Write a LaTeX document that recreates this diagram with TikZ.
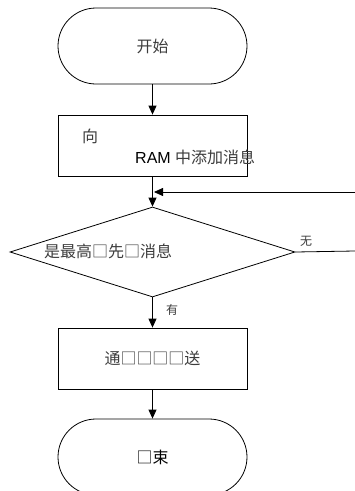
\documentclass[tikz,border=0pt]{standalone}
\usepackage{fontspec}
\setmainfont{Liberation Sans}
\newfontfamily\cjk{Noto Sans CJK SC}
\usetikzlibrary{shapes.geometric,arrows.meta}
\definecolor{txtgray}{HTML}{3C3C3C}
\tikzset{
  line/.style={draw=black, line width=0.8pt},
  arr/.style={line, -{Triangle[length=9pt,width=8pt]}},
  term/.style={line, rectangle, rounded corners=38pt, minimum width=189pt, minimum height=76pt, inner sep=0pt},
  proc/.style={line, rectangle, minimum width=189pt, minimum height=61pt, inner sep=0pt},
  dec/.style={line, diamond, minimum width=285pt, minimum height=90pt, inner sep=0pt, aspect=3.17},
  big/.style={font=\cjk\fontsize{16}{18}\selectfont, text=txtgray, inner sep=0pt},
  small/.style={font=\cjk\fontsize{12}{14}\selectfont, text=txtgray, inner sep=0pt},
}
\begin{document}
\begin{tikzpicture}[x=1pt,y=-1pt]
\useasboundingbox (0,0) rectangle (355,491);
\clip (0,0) rectangle (355,491);
\node[term, big] (start) at (152.5,46) {开始};
\node[proc] (box1) at (152.5,145.5) {};
\node[big] (t1a) at (90,136) {向};
\node[big, anchor=west] (t1b) at (135,157) {\fontspec{Liberation Sans}\color{black}RAM {\cjk\color{txtgray}中添加消息}};
\node[dec] (dia) at (152.5,252) {};
\node[big, anchor=west] (t2) at (44,251) {是最高□先□消息};
\node[proc, big] (box2) at (152.5,358.5) {通□□□□送};
\node[term, big, text=black] (end) at (152.5,457) {□束};
\coordinate (inR) at (355,192);
\coordinate (inT) at (154,192);
\coordinate (outR) at (355,251);
\draw[arr] (start) -- (box1);
\draw[arr] (box1) -- (dia);
\draw[arr] (inR) -- (inT);
\draw[line] (dia.east) -- (outR);
\node[small] (lno) at (306,241) {无};
\draw[arr] (dia) -- (box2);
\node[small] (lyes) at (172,310) {有};
\draw[arr] (box2) -- (end);
\end{tikzpicture}
\end{document}
